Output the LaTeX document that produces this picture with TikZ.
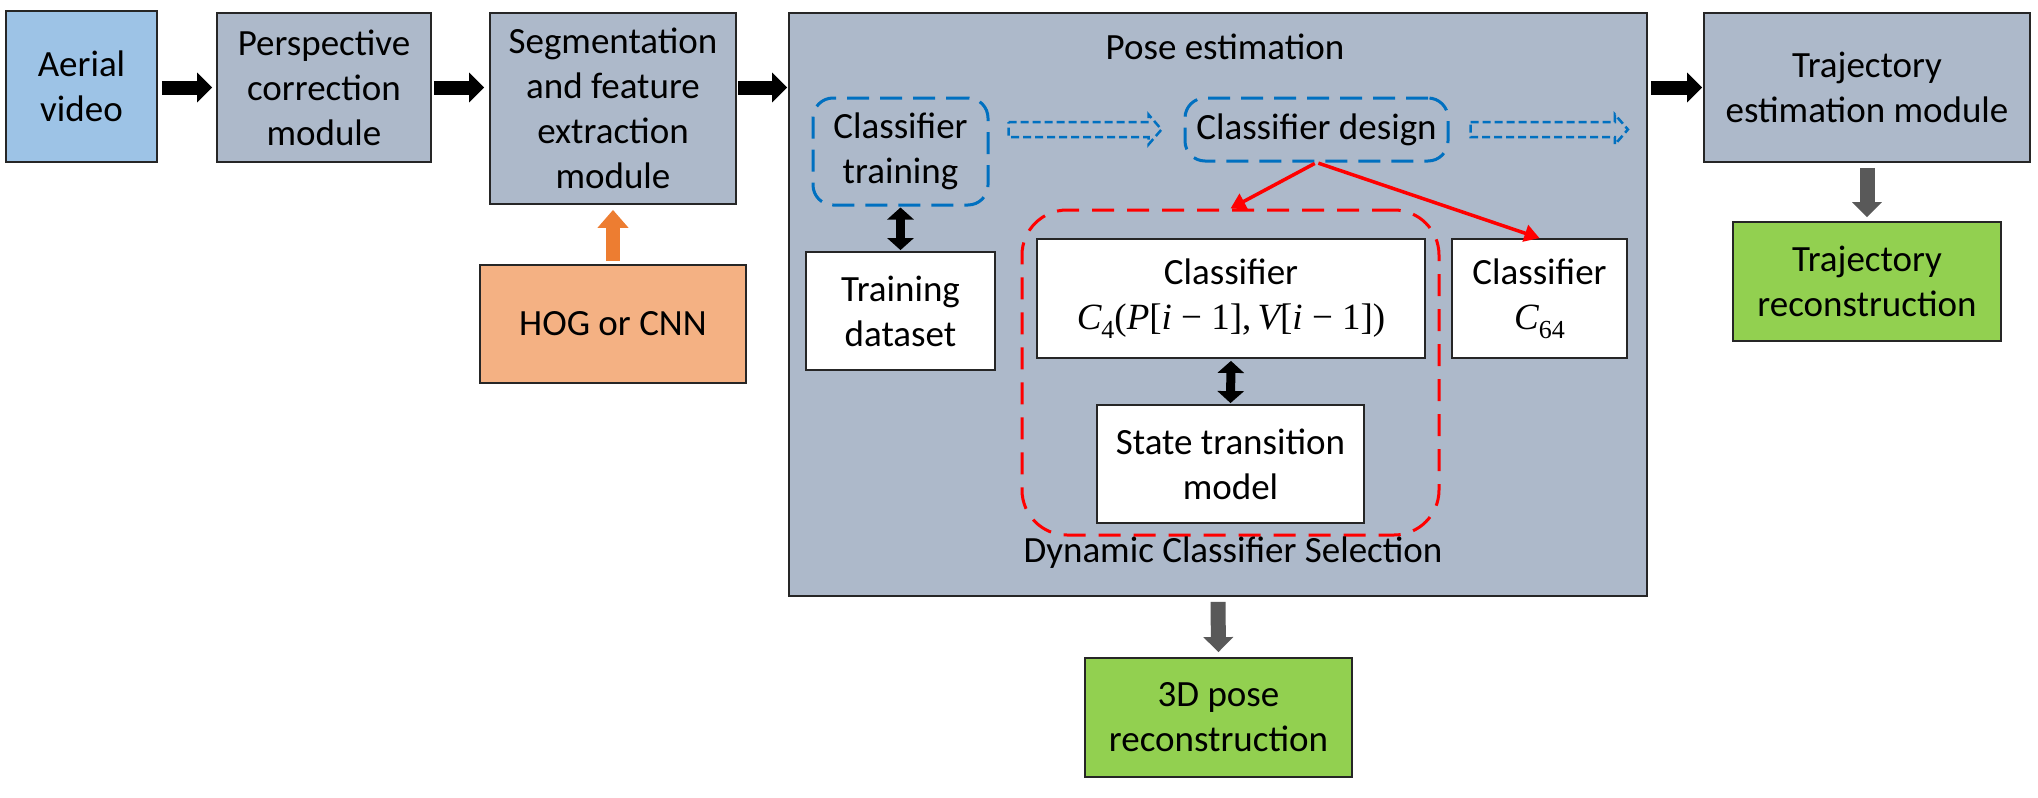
\documentclass[tikz,border=0pt]{standalone}
\usepackage{fontspec}
\setmainfont{Carlito}
\newfontfamily\serifmath{Liberation Serif}
\usetikzlibrary{arrows.meta,calc}
\definecolor{boxgray}{HTML}{ADB9CA}
\definecolor{aerial}{HTML}{9DC3E6}
\definecolor{hogc}{HTML}{F4B183}
\definecolor{greenc}{HTML}{92D050}
\definecolor{bluec}{HTML}{0070C0}
\definecolor{orangec}{HTML}{ED7D31}
\definecolor{grayarrow}{HTML}{595959}
\definecolor{borderc}{HTML}{262626}
\newcommand\mvar[1]{{\serifmath\itshape #1}}
\newcommand\mup[1]{{\serifmath #1}}
\newcommand\msub[1]{\raisebox{-0.25em}{\fontsize{26}{26}\selectfont\serifmath #1}}
\newcommand\myhollowarrow[2]{%
  \draw[hollowar] let \p1=(#1), \p2=(#2) in
  (\x1,\y1+7.5pt) -- (\x2-13pt,\y1+7.5pt) -- (\x2-13pt,\y1+15pt) -- (\x2,\y1)
  -- (\x2-13pt,\y1-15pt) -- (\x2-13pt,\y1-7.5pt) -- (\x1,\y1-7.5pt) -- cycle;}
\begin{document}
\begin{tikzpicture}[x=1pt,y=-1pt,
  font=\fontsize{37}{45}\selectfont,
  box/.style={draw=borderc, line width=1.8pt, align=center, inner sep=0pt},
  bluebox/.style={draw=bluec, line width=3pt, dash pattern=on 22pt off 11pt, rounded corners=20pt, align=center, inner sep=0pt},
  redbox/.style={draw=red, line width=3pt, dash pattern=on 22pt off 13pt, rounded corners=45pt, inner sep=0pt},
  fatarrow/.style={draw=black, line width=14pt, -{Triangle[length=15pt,width=29pt]}},
  grayfat/.style={draw=grayarrow, line width=15pt, -{Triangle[length=15pt,width=29pt]}},
  orangefat/.style={draw=orangec, line width=14pt, -{Triangle[length=18pt,width=30pt]}},
  dblarrow/.style={draw=black, line width=9pt, {Triangle[length=12pt,width=26pt]}-{Triangle[length=12pt,width=26pt]}},
  redarrow/.style={draw=red, line width=3.5pt, -{Triangle[length=15pt,width=17pt]}},
  hollowar/.style={draw=bluec, line width=2.5pt, dash pattern=on 8pt off 4pt},
]
\useasboundingbox (0,0) rectangle (2038,798);

% pose estimation container
\node[box, fill=boxgray, minimum width=858pt, minimum height=583pt] (pose) at (1218,304.5) {};
\node (poselbl) at (1225,47) {Pose estimation};

% main chain
\node[box, fill=aerial, minimum width=151pt, minimum height=151pt] (aer) at (81.5,86.5) {Aerial\\video};
\node[box, fill=boxgray, minimum width=214pt, minimum height=149pt] (per) at (324,87.5) {Perspective\\correction\\module};
\node[box, fill=boxgray, minimum width=246pt, minimum height=191pt] (seg) at (613,108.5) {Segmentation\\and feature\\extraction\\module};
\node[box, fill=hogc, minimum width=266pt, minimum height=118pt] (hog) at (613,324) {HOG or CNN};
\node[box, fill=boxgray, minimum width=326pt, minimum height=149pt] (tre) at (1867,87.5) {Trajectory\\estimation module};
\node[box, fill=greenc, minimum width=268pt, minimum height=119pt] (trr) at (1867,281.5) {Trajectory\\reconstruction};
\node[box, fill=greenc, minimum width=267pt, minimum height=119pt] (p3d) at (1218.5,717.5) {3D pose\\reconstruction};

% inside pose estimation
\node[redbox, minimum width=417pt, minimum height=325pt] (dcs) at (1230.5,372.5) {};
\node (dcslbl) at (1233,553) {Dynamic Classifier Selection};
\node[bluebox, minimum width=175pt, minimum height=107pt] (ct) at (900.5,151.5) {Classifier\\training};
\node[bluebox, minimum width=263pt, minimum height=63pt] (cd) at (1316.5,129.5) {Classifier design};
\node[box, fill=white, minimum width=189pt, minimum height=118pt] (td) at (900.5,311) {Training\\dataset};
\node[box, fill=white, minimum width=388pt, minimum height=119pt] (c4) at (1231,298.5)
  {Classifier\\\mvar{C}\msub{4}\mup{(}\mvar{P}\mup{[}\mvar{i}\mup{ − 1],}\,\mvar{V}\mup{[}\mvar{i}\mup{ − 1])}};
\node[box, fill=white, minimum width=175pt, minimum height=119pt] (c64) at (1539.5,298.5) {Classifier\\\mvar{C}\msub{64}};
\node[box, fill=white, minimum width=267pt, minimum height=118pt] (st) at (1230.5,464) {State transition\\model};

% black block arrows
\draw[fatarrow, shorten <=4pt, shorten >=4pt] (aer.east |- per.east) -- (per.west);
\draw[fatarrow, shorten <=2pt, shorten >=5pt] (per.east) -- (seg.west |- per.east);
\draw[fatarrow, shorten <=1pt, shorten >=1pt] (seg.east |- per.east) -- (pose.west |- per.east);
\draw[fatarrow, shorten <=3pt, shorten >=1pt] (pose.east |- tre.west) -- (tre.west);

% orange arrow
\draw[orangefat, shorten <=3pt, shorten >=5pt] (hog.north) -- (seg.south);

% gray arrows
\draw[grayfat, shorten <=5pt, shorten >=4pt] (tre.south) -- (trr.north);
\draw[grayfat, shorten <=5pt, shorten >=5pt] (pose.south) -- (p3d.north);

% double arrows
\draw[dblarrow, shorten <=1pt, shorten >=1pt] (ct.south) -- (td.north);
\draw[dblarrow, shorten <=2pt, shorten >=1pt] (c4.south) -- (st.north);

% red arrows
\draw[redarrow, shorten <=2pt] (cd.south) -- (dcs.north);
\draw[redarrow, shorten <=2pt] (cd.south) -- (c64.north);

% hollow dashed arrows
\coordinate (h1s) at ($(ct.east |- cd.center)+(19,0)$);
\coordinate (h1e) at ($(cd.west)+(-22,0)$);
\coordinate (h2s) at ($(cd.east)+(21,0)$);
\coordinate (h2e) at ($(pose.east |- cd.center)+(-20,0)$);
\myhollowarrow{h1s}{h1e}
\myhollowarrow{h2s}{h2e}
\end{tikzpicture}
\end{document}
